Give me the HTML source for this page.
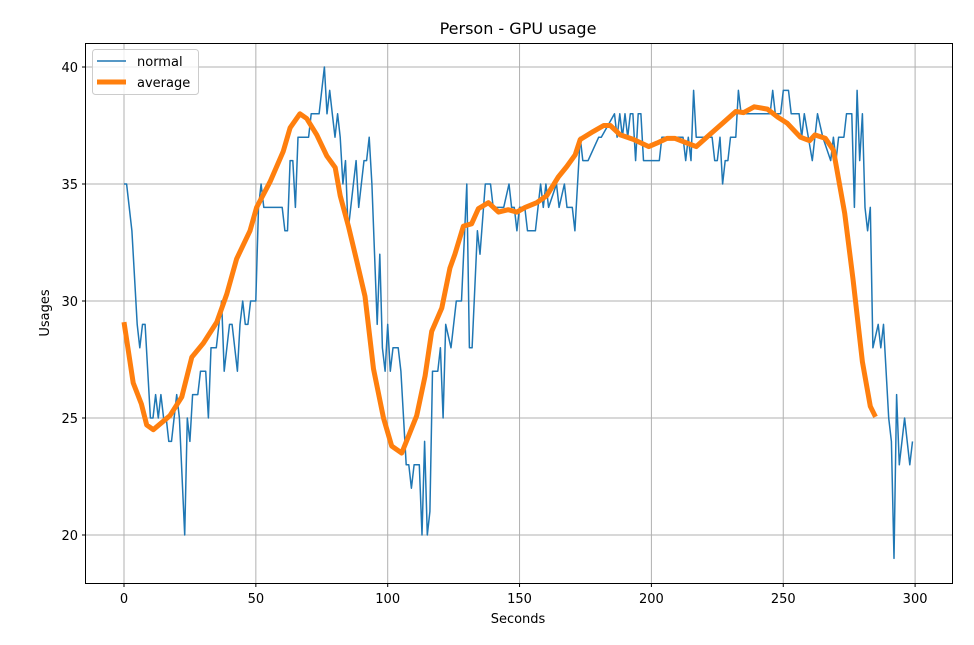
<!DOCTYPE html>
<html><head><meta charset="utf-8"><style>
body{margin:0;background:#fff;}
svg text{font-family:"DejaVu Sans","Liberation Sans",sans-serif;fill:#000;}
</style></head><body>
<svg id="chart" width="974" height="640" xmlns="http://www.w3.org/2000/svg">
<rect width="974" height="640" fill="#fff"/>
<g id="grid"></g>
<g id="series"></g>
<rect x="85.5" y="43.5" width="867" height="540" fill="none" stroke="#000" stroke-width="1"/>
<g id="ticks"></g>
<text x="518" y="34" font-size="16" text-anchor="middle">Person - GPU usage</text>
<text x="518" y="623" font-size="13" text-anchor="middle">Seconds</text>
<text x="49" y="313" font-size="13" text-anchor="middle" transform="rotate(-90 49 313)">Usages</text>
<g>
<rect x="92.5" y="49.5" width="106" height="45" rx="3" fill="#fff" fill-opacity="0.8" stroke="#ccc"/>
<line x1="97" y1="61" x2="126" y2="61" stroke="#1f77b4" stroke-width="1.5"/>
<text x="137" y="66" font-size="13">normal</text>
<line x1="97" y1="82" x2="126" y2="82" stroke="#ff7f0e" stroke-width="5"/>
<text x="137" y="87" font-size="13">average</text>
</g>
</svg>
<script>
const xTicks=[0,50,100,150,200,250,300];
const yTicks=[20,25,30,35,40];
const normalSeconds=[
0,1,3,5,6,7,8,10,11,12,
13,14,15,16,17,18,19,20,21,23,
24,25,26,28,29,31,32,33,35,36,
37,38,40,41,43,44,45,46,47,48,
50,51,52,53,60,61,62,63,64,65,
66,70,71,74,76,77,78,79,80,81,
82,83,84,85,87,88,89,91,92,93,
94,96,97,98,99,100,101,102,104,105,
107,108,109,110,112,113,114,115,116,117,
119,120,121,122,124,126,128,130,131,132,
134,135,137,139,140,144,146,147,148,149,
150,152,153,156,158,159,160,161,164,165,
167,168,170,171,173,174,176,180,181,186,
187,188,189,190,191,192,193,194,195,196,
197,199,203,204,212,213,214,215,216,217,
223,224,225,226,227,228,229,230,232,233,
234,245,246,247,249,250,252,253,256,257,
258,261,263,265,268,269,270,271,273,274,
276,277,278,279,280,281,282,283,284,286,
287,288,290,291,292,293,294,296,298,299];
const normalUsage=[
35,35,33,29,28,29,29,25,25,26,
25,26,25,25,24,24,25,26,25,20,
25,24,26,26,27,27,25,28,28,29,
30,27,29,29,27,29,30,29,29,30,
30,34,35,34,34,33,33,36,36,34,
37,37,38,38,40,38,39,38,37,38,
37,35,36,33,35,36,34,36,36,37,
35,29,32,28,27,29,27,28,28,27,
23,23,22,23,23,20,24,20,21,27,
27,28,25,29,28,30,30,35,28,28,
33,32,35,35,34,34,35,34,34,33,
34,34,33,33,35,34,35,34,35,34,
35,34,34,33,37,36,36,37,37,38,
37,38,37,38,37,38,38,36,38,38,
36,36,36,37,37,36,37,36,39,37,
37,36,36,37,35,36,36,37,37,39,
38,38,39,38,38,39,39,38,38,37,
38,36,38,37,36,37,36,37,37,38,
38,34,39,36,38,34,33,34,28,29,
28,29,25,24,19,26,23,25,23,24];
const avgSeconds=[0,3.5,6.6,8.6,11.1,17.4,21.9,25.7,30.1,35.2,39,42.7,47.8,50.3,55.4,60.4,63,66.7,69.3,73.1,76.9,80.1,82,85.1,88.3,91.4,94.6,98.4,101.5,105.3,107.8,111,114.2,116.7,120.5,123.6,125.5,128.7,131.8,134.4,138.2,142,145.7,149,152.1,156.5,160.3,164.7,167.9,171.1,173,178,181.9,184.4,188.2,193.3,199,202.1,205.9,209,213.5,217,222,227,232,235,239,244,248,251.5,256.5,260,262,266,269,273.3,276.5,280,283,285];
const avgUsage=[29.1,26.5,25.6,24.7,24.5,25.1,25.9,27.6,28.2,29.1,30.3,31.8,33.0,34.0,35.1,36.4,37.4,38.0,37.8,37.1,36.2,35.7,34.5,33.2,31.7,30.2,27.1,25.0,23.8,23.5,24.2,25.1,26.8,28.7,29.7,31.4,32.0,33.2,33.3,33.95,34.2,33.8,33.9,33.8,34.0,34.2,34.5,35.3,35.75,36.25,36.9,37.25,37.5,37.5,37.1,36.9,36.6,36.75,36.95,36.95,36.75,36.6,37.1,37.6,38.1,38.05,38.3,38.2,37.85,37.6,37.0,36.85,37.1,36.95,36.45,33.75,30.9,27.4,25.5,25.05];

const NS='http://www.w3.org/2000/svg';
function X(v){return 124+v*2.637;}
function Y(v){return 535-(v-20)*23.4;}
function mk(tag,attrs,parent){const e=document.createElementNS(NS,tag);for(const k in attrs)e.setAttribute(k,attrs[k]);parent.appendChild(e);return e;}
const grid=document.getElementById('grid'),ticks=document.getElementById('ticks'),series=document.getElementById('series');
xTicks.forEach(t=>{
  const x=X(t);
  const g=mk('line',{x1:x,y1:43.5,x2:x,y2:583.5,stroke:'#b0b0b0','stroke-width':1},grid);
  
  
  const tk=mk('line',{x1:x,y1:583.5,x2:x,y2:587,stroke:'#000'},ticks);
  
  
  const lb=mk('text',{x:x,y:603,'font-size':13,'text-anchor':'middle'},ticks);lb.textContent=t;
  
  
});
yTicks.forEach(t=>{
  const y=Y(t);
  const g=mk('line',{x1:85.5,y1:y,x2:952.5,y2:y,stroke:'#b0b0b0','stroke-width':1},grid);
  
  
  const tk=mk('line',{x1:82,y1:y,x2:85.5,y2:y,stroke:'#000'},ticks);
  
  
  const lb=mk('text',{x:78,y:y+5,'font-size':13,'text-anchor':'end'},ticks);lb.textContent=t;
  
  
});
const nPts=normalSeconds.map((s,i)=>X(s).toFixed(1)+','+Y(normalUsage[i]).toFixed(1)).join(' ');
const nl=mk('polyline',{points:nPts,fill:'none',stroke:'#1f77b4','stroke-width':1.5,'stroke-linejoin':'round'},series);


const aPts=avgSeconds.map((s,i)=>X(s).toFixed(1)+','+Y(avgUsage[i]).toFixed(1)).join(' ');
const al=mk('polyline',{points:aPts,fill:'none',stroke:'#ff7f0e','stroke-width':5,'stroke-linejoin':'round'},series);


</script>
</body></html>
